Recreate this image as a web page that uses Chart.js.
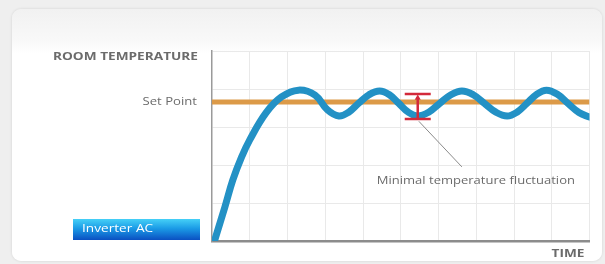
<!DOCTYPE html>
<html>
<head>
<meta charset="utf-8">
<script src="https://cdn.jsdelivr.net/npm/chart.js@4.4.1/dist/chart.umd.min.js"></script>
<style>
  html, body { margin: 0; padding: 0; overflow: hidden; }
  body { width: 605px; height: 264px; background: #efefef; position: relative; font-family: "Open Sans", sans-serif; }
  #card {
    position: absolute; left: 12px; top: 9px; width: 590px; height: 252px;
    border-radius: 9px;
    background: linear-gradient(to bottom, #f1f1f1 0px, #f8f8f8 30px, #ffffff 45px, #ffffff 100%);
    box-shadow: 0 0 3px rgba(0,0,0,0.12);
  }
  #myChart { position: absolute; left: 0; top: 0; }
</style>
</head>
<body>
<div id="card"></div>
<canvas id="myChart" width="605" height="264"></canvas>
<script>
// Room temperature of the inverter AC over time (arbitrary units)
const timeValues = [0.08, 0.34, 0.55, 0.78, 1.0, 1.43, 1.84, 2.29, 2.73, 3.06, 3.36,
  3.62, 3.88, 4.16, 4.44, 4.70, 4.95, 5.20, 5.45, 5.74, 6.03, 6.33, 6.62, 6.92, 7.22,
  7.52, 7.82, 8.08, 8.34, 8.60, 8.86, 9.15, 9.43, 9.72, 10.0];
const tempValues = [0.05, 0.89, 1.6, 2.2, 2.66, 3.37, 3.79, 3.97, 3.84, 3.45, 3.29,
  3.39, 3.62, 3.85, 3.95, 3.85, 3.62, 3.39, 3.29, 3.39, 3.62, 3.85, 3.95, 3.85, 3.62,
  3.39, 3.29, 3.39, 3.62, 3.86, 3.97, 3.86, 3.62, 3.38, 3.26];

// Set point level
const setPoint = 3.66;
const timeRange = [0, 10];
const tempRange = [0, 5];

// Fluctuation marker and its leader line
const fluctTime = 5.45;
const fluctRange = [3.21, 3.87];
const leaderFrom = [5.48, 3.15];
const leaderTo = [6.62, 1.95];
const noteAt = [6.99, 1.58];

// Texts
const yTitle = 'ROOM TEMPERATURE';
const xTitle = 'TIME';
const setPointLabel = 'Set Point';
const noteLabel = 'Minimal temperature fluctuation';
const seriesLabel = 'Inverter AC';

const curve = timeValues.map((t, i) => ({ x: t, y: tempValues[i] }));

// Function to write a text stretched sideways like the original artwork
function wideText(ctx, text, x, y, align, stretch) {
  ctx.save();
  ctx.translate(x, y);
  ctx.scale(stretch, 1);
  ctx.textAlign = align;
  ctx.fillText(text, 0, 0);
  ctx.restore();
}

// Plugin to draw the texts next to the axes
const labelsPlugin = {
  id: 'labels',
  afterDraw(chart) {
    const ctx = chart.ctx;
    const xs = chart.scales.x, ys = chart.scales.y;
    const left = chart.chartArea.left;
    ctx.save();
    ctx.textBaseline = 'middle';

    ctx.fillStyle = '#6b6b6b';
    ctx.font = 'bold 11px "Open Sans"';
    wideText(ctx, yTitle, left - 14, ys.getPixelForValue(tempRange[1]) + 6, 'right', 1.24);

    ctx.font = '10.5px "Open Sans"';
    wideText(ctx, setPointLabel, left - 15, ys.getPixelForValue(setPoint), 'right', 1.25);

    ctx.font = 'bold 10.5px "Open Sans"';
    wideText(ctx, xTitle, xs.getPixelForValue(timeRange[1]) - 5, chart.chartArea.bottom + 13, 'right', 1.3);

    ctx.font = '10.5px "Open Sans"';
    wideText(ctx, noteLabel, xs.getPixelForValue(noteAt[0]), ys.getPixelForValue(noteAt[1]), 'center', 1.24);

    // series label box
    const bx = left - 139, by = chart.chartArea.bottom - 22, bw = 127, bh = 21;
    const g = ctx.createLinearGradient(0, by, 0, by + bh);
    g.addColorStop(0, '#45d0f7');
    g.addColorStop(0.45, '#1b9be6');
    g.addColorStop(1, '#0a50c2');
    ctx.fillStyle = g;
    ctx.fillRect(bx, by, bw, bh);
    ctx.fillStyle = '#ffffff';
    ctx.font = '10.5px "Open Sans"';
    wideText(ctx, seriesLabel, bx + 9, by + bh / 2, 'left', 1.3);
    ctx.restore();
  }
};

const config = {
  type: 'line',
  data: {
    datasets: [
      {
        label: 'fluctuation',
        data: [{ x: fluctTime, y: fluctRange[0] }, { x: fluctTime, y: fluctRange[1] - 0.08 }],
        borderColor: '#d3293a',
        borderWidth: 2.5,
        pointRadius: 0,
      },
      {
        label: 'caps',
        data: [{ x: fluctTime, y: fluctRange[0] }, { x: fluctTime, y: fluctRange[1] }],
        showLine: false,
        pointStyle: 'line',
        pointRadius: 13,
        pointBorderWidth: 2.5,
        pointBorderColor: '#d3293a',
      },
      {
        label: 'arrow',
        data: [{ x: fluctTime, y: fluctRange[1] - 0.11 }],
        showLine: false,
        pointStyle: 'triangle',
        pointRadius: 3.5,
        pointBackgroundColor: '#d3293a',
        pointBorderColor: '#d3293a',
        pointBorderWidth: 0,
      },
      {
        label: 'leader',
        data: [{ x: leaderFrom[0], y: leaderFrom[1] }, { x: leaderTo[0], y: leaderTo[1] }],
        borderColor: '#8a8a8a',
        borderWidth: 1,
        pointRadius: 0,
      },
      {
        label: seriesLabel,
        data: curve,
        borderColor: '#2391c5',
        borderWidth: 7,
        borderCapStyle: 'round',
        tension: 0.4,
        pointRadius: 0,
      },
      {
        label: setPointLabel,
        data: [{ x: timeRange[0], y: setPoint }, { x: timeRange[1], y: setPoint }],
        borderColor: '#dc9a48',
        borderWidth: 5,
        pointRadius: 0,
      },
    ]
  },
  options: {
    responsive: false,
    animation: false,
    layout: { padding: { left: 212, top: 51, right: 8, bottom: 23 } },
    plugins: {
      legend: { display: false },
      tooltip: { enabled: false },
    },
    scales: {
      x: {
        type: 'linear',
        min: timeRange[0],
        max: timeRange[1],
        ticks: { display: false, stepSize: 1 },
        grid: {
          drawTicks: false,
          color: ctx => ctx.tick && ctx.tick.value === 0 ? 'rgba(0,0,0,0)' : '#e9e9e9',
          lineWidth: 1,
        },
        border: { display: true, color: '#8c8c8c', width: 2.5 },
      },
      y: {
        type: 'linear',
        min: tempRange[0],
        max: tempRange[1],
        ticks: { display: false, stepSize: 1 },
        grid: {
          drawTicks: false,
          color: ctx => ctx.tick && ctx.tick.value === 0 ? 'rgba(0,0,0,0)' : '#e9e9e9',
          lineWidth: 1,
        },
        border: { display: true, color: '#9a9a9a', width: 1.5 },
      }
    }
  },
  plugins: [labelsPlugin]
};

const myChart = new Chart('myChart', config);
</script>
</body>
</html>
